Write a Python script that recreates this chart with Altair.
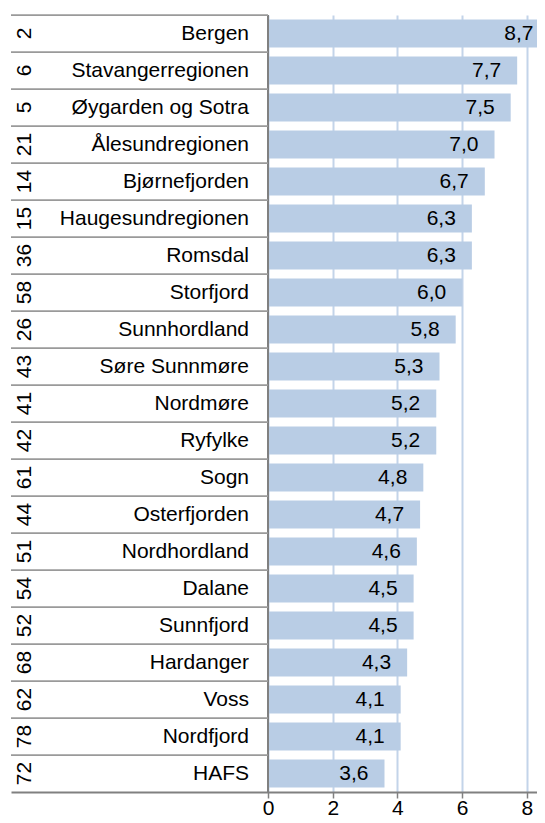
import altair as alt
import pandas as pd

ranks = [2, 6, 5, 21, 14, 15, 36, 58, 26, 43, 41, 42, 61, 44, 51, 54, 52, 68, 62, 78, 72]
names = ["Bergen", "Stavangerregionen", "Øygarden og Sotra", "Ålesundregionen",
         "Bjørnefjorden", "Haugesundregionen", "Romsdal", "Storfjord", "Sunnhordland",
         "Søre Sunnmøre", "Nordmøre", "Ryfylke", "Sogn", "Osterfjorden", "Nordhordland",
         "Dalane", "Sunnfjord", "Hardanger", "Voss", "Nordfjord", "HAFS"]
values = [8.7, 7.7, 7.5, 7.0, 6.7, 6.3, 6.3, 6.0, 5.8, 5.3, 5.2, 5.2, 4.8, 4.7, 4.6,
          4.5, 4.5, 4.3, 4.1, 4.1, 3.6]
x_ticks = [0, 2, 4, 6, 8]

df = pd.DataFrame({
    "rank": [str(r) for r in ranks],
    "name": names,
    "value": values,
    "label": [f"{v:.1f}".replace(".", ",") for v in values],
})

FONT = "Liberation Sans"
FS = 21
H = 777
LEFT_W = 257          # label panel width (px)
PLOT_W = 269          # bar panel width (px), page right margin keeps it inside the window
PX_PER_UNIT = 32.36
XMAX = PLOT_W / PX_PER_UNIT
XMIN = -LEFT_W / PX_PER_UNIT
STEP = H / len(names)
GRAY = "#9a9a9a"

base = alt.Chart(df)

Y = alt.Y("name:N", sort=names,
          scale=alt.Scale(domain=names, paddingInner=0.24, paddingOuter=0.12),
          axis=None)
X = alt.X("value:Q", scale=alt.Scale(domain=[XMIN, XMAX], nice=False, zero=False),
          axis=alt.Axis(values=x_ticks, grid=True, gridColor="#c3d4e9", gridWidth=2,
                        domainColor="#808080", domainWidth=2, tickColor="#808080",
                        tickWidth=1.5, tickSize=6, labelFont=FONT, labelFontSize=FS,
                        labelColor="black", labelPadding=-1, title=None))

bars = base.mark_bar(color="#b9cde5", clip=True).encode(x=X, x2=alt.datum(0), y=Y)

vals = base.mark_text(align="right", baseline="middle", dx=-16,
                      font=FONT, fontSize=FS, color="black").encode(
    x="value:Q", y=Y, text="label:N")

zero_line = base.transform_filter(alt.datum.name == names[0]).mark_rule(
    color="#808080", strokeWidth=2).encode(x=alt.datum(0))

sep = base.mark_rule(color=GRAY, strokeWidth=1.75, yOffset=-STEP / 2).encode(
    y=Y, x=alt.value(0), x2=alt.value(LEFT_W))

rank_text = base.mark_text(angle=270, align="center", baseline="middle",
                           font=FONT, fontSize=FS, color="black").encode(
    y=Y, x=alt.value(14), text="rank:N")

name_text = base.mark_text(align="right", baseline="middle",
                           font=FONT, fontSize=FS, color="black").encode(
    y=Y, x=alt.value(238), text="name:N")

chart = alt.layer(bars, vals, zero_line, sep, rank_text, name_text).properties(
    width=LEFT_W + PLOT_W, height=H,
    autosize=alt.AutoSizeParams(type="none"),
    padding={"left": 3, "top": 7, "right": 0, "bottom": 23},
).configure_view(stroke=None)

chart.save("out.html", embed_options={"renderer": "svg", "actions": False})
